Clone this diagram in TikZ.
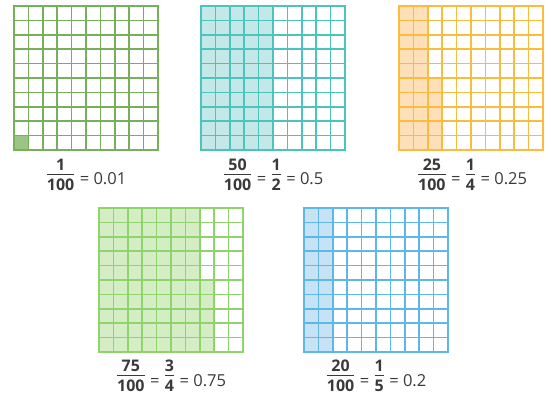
\documentclass[tikz,border=0pt]{standalone}
\usepackage{amsmath}
\usepackage{fontspec}
\setmainfont{Open Sans}
\definecolor{gAline}{HTML}{77B05A}\definecolor{gAfill}{HTML}{9CC585}
\definecolor{gBline}{HTML}{4CC4BE}\definecolor{gBfill}{HTML}{C4E8E8}
\definecolor{gCline}{HTML}{FBBB3E}\definecolor{gCfill}{HTML}{FDE0B8}
\definecolor{gDline}{HTML}{8FD46A}\definecolor{gDfill}{HTML}{D5EDC5}
\definecolor{gEline}{HTML}{5CB8E8}\definecolor{gEfill}{HTML}{C8E2F5}
\definecolor{txt}{HTML}{3A3A3A}
\newcommand\myfr[2]{\raisebox{6pt}{$\textstyle{\hbox{\fontsize{16}{20}\selectfont\bfseries\rule[-1.5pt]{0pt}{1pt}#1}\above1.6pt\hbox{\fontsize{16}{20}\selectfont\bfseries\rule{0pt}{13.5pt}#2}}$}}
\newcommand\hgrid[1]{%
  \foreach \i in {1,...,9} {\draw[gridline,#1] (\i,0) -- (\i,10); \draw[gridline,#1] (0,\i) -- (10,\i);}
  \draw[gridline,#1,line width=1.9pt] (0,0) rectangle (10,10);}
\tikzset{
  gridline/.style={line width=1.6pt},
  lab/.style={text=txt,font=\fontsize{16.5}{20}\selectfont,inner sep=0pt,anchor=base}
}
\begin{document}
\begin{tikzpicture}[x=1pt,y=-1pt]
\useasboundingbox (0,0) rectangle (552,406);
% grid 1
\begin{scope}[shift={(14,6)},x=14.4pt,y=-14.4pt]
  \fill[gAfill] (0,9) rectangle (1,10);
  \hgrid{gAline}
\end{scope}
% grid 2
\begin{scope}[shift={(201,6)},x=14.4pt,y=-14.4pt]
  \fill[gBfill] (0,0) rectangle (5,10);
  \hgrid{gBline}
\end{scope}
% grid 3
\begin{scope}[shift={(399,6)},x=14.4pt,y=-14.4pt]
  \fill[gCfill] (0,0) rectangle (2,10);
  \fill[gCfill] (2,5) rectangle (3,10);
  \hgrid{gCline}
\end{scope}
% grid 4
\begin{scope}[shift={(99,208)},x=14.4pt,y=-14.4pt]
  \fill[gDfill] (0,0) rectangle (7,10);
  \fill[gDfill] (7,5) rectangle (8,10);
  \hgrid{gDline}
\end{scope}
% grid 5
\begin{scope}[shift={(304,208)},x=14.4pt,y=-14.4pt]
  \fill[gEfill] (0,0) rectangle (2,10);
  \hgrid{gEline}
\end{scope}
% labels
\node[lab] (l1) at (86,185) {\myfr{1}{100} = 0.01};
\node[lab] (l2) at (273,185) {\myfr{50}{100} = \myfr{1}{2} = 0.5};
\node[lab] (l3) at (472,185) {\myfr{25}{100} = \myfr{1}{4} = 0.25};
\node[lab] (l4) at (171,386) {\myfr{75}{100} = \myfr{3}{4} = 0.75};
\node[lab] (l5) at (376,386) {\myfr{20}{100} = \myfr{1}{5} = 0.2};
\end{tikzpicture}
\end{document}
